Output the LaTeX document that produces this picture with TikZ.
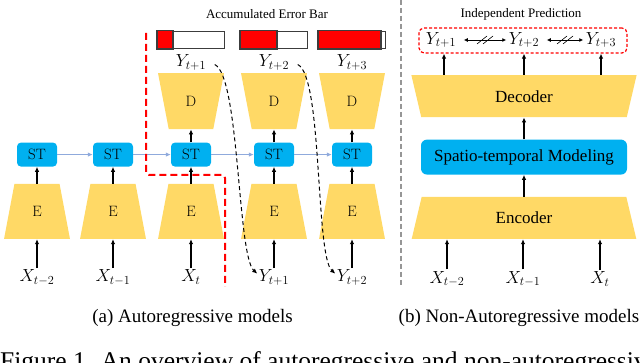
\RequirePackage{fix-cm}
\documentclass[tikz,border=0pt]{standalone}
\usepackage{fontspec}
\usepackage{amsmath}
\usepackage{tikz}
\usepackage{xcolor}
\newfontfamily\timesfont{Liberation Serif}
\usetikzlibrary{arrows.meta,positioning,shapes.geometric}
\definecolor{gold}{RGB}{255,217,102}
\definecolor{stblue}{RGB}{0,176,240}
\definecolor{linkblue}{RGB}{143,170,220}
\definecolor{bargray}{RGB}{60,60,60}
\definecolor{sepgray}{RGB}{150,150,150}

\begin{document}
\begin{tikzpicture}[x=1pt, y=-1pt, >={Latex[length=5pt,width=4.5pt]},
  encshape/.style={trapezium, trapezium stretches=true, trapezium angle=78, fill=gold, inner sep=0pt,
    minimum width=66pt, minimum height=55pt, font=\fontsize{15}{18}\selectfont},
  decshape/.style={encshape, shape border rotate=180, trapezium angle=76, minimum height=56pt},
  bigenc/.style={encshape, trapezium angle=77, minimum width=226pt, minimum height=42pt,
    font=\timesfont\fontsize{17}{20}\selectfont},
  bigdec/.style={bigenc, shape border rotate=180},
  stcell/.style={rectangle, rounded corners=4pt, fill=stblue, minimum width=40pt, minimum height=24pt,
    inner sep=0pt, font=\fontsize{15}{18}\selectfont},
  var/.style={inner sep=1.5pt, font=\fontsize{17.5}{20}\selectfont},
  errbar/.style={draw=bargray, line width=1.2pt, fill=white, minimum width=67pt, minimum height=17pt, inner sep=0pt},
  flow/.style={->, line width=1.2pt},
  link/.style={->, linkblue, line width=1.2pt},
  subcap/.style={font=\timesfont\fontsize{19}{22}\selectfont},
  note/.style={font=\timesfont\fontsize{13}{15}\selectfont}]
  \useasboundingbox (0,0) rectangle (640,363);

  % (a) autoregressive
  \node[encshape] (e1) at (37,211.5) {E};
  \node[encshape] (e2) at (113,211.5) {E};
  \node[encshape] (e3) at (191,211.5) {E};
  \node[encshape] (e4) at (274,211.5) {E};
  \node[encshape] (e5) at (352,211.5) {E};
  \node[stcell, above=17pt of e1] (st1) {ST};
  \node[stcell, above=17pt of e2] (st2) {ST};
  \node[stcell, above=17pt of e3] (st3) {ST};
  \node[stcell, above=17pt of e4] (st4) {ST};
  \node[stcell, above=17pt of e5] (st5) {ST};
  \node[decshape, above=13pt of st3] (d1) {D};
  \node[decshape, above=13pt of st4] (d2) {D};
  \node[decshape, above=13pt of st5] (d3) {D};
  \node[var, above=1pt of d1] (yt1) {$Y_{t+1}$};
  \node[var, above=1pt of d2] (yt2) {$Y_{t+2}$};
  \node[var, above=1pt of d3] (yt3) {$Y_{t+3}$};
  \node[errbar, above=4pt of yt1] (bar1) {};
  \node[errbar, above=4pt of yt2] (bar2) {};
  \node[errbar, above=4pt of yt3] (bar3) {};
  \filldraw[fill=red, draw=bargray, line width=1.2pt] (bar1.south west) rectangle ([xshift=16pt]bar1.north west);
  \filldraw[fill=red, draw=bargray, line width=1.2pt] (bar2.south west) rectangle ([xshift=37pt]bar2.north west);
  \filldraw[fill=red, draw=bargray, line width=1.2pt] (bar3.south west) rectangle ([xshift=63pt]bar3.north west);
  \node[note] (acc) at (267,14) {Accumulated Error Bar};
  \node[var, below=29pt of e1] (x1) {$X_{t-2}$};
  \node[var, below=29pt of e2] (x2) {$X_{t-1}$};
  \node[var, below=29pt of e3] (x3) {$X_{t}$};
  \node[var, below=29pt of e4] (yb1) {$Y_{t+1}$};
  \node[var, below=29pt of e5] (yb2) {$Y_{t+2}$};

  \draw[flow] (x1.north) -- (e1.south);
  \draw[flow] (x2.north) -- (e2.south);
  \draw[flow] (x3.north) -- (e3.south);
  \draw[flow] (yb1.north) -- (e4.south);
  \draw[flow] (yb2.north) -- (e5.south);
  \draw[flow] (e1.north) -- (st1.south);
  \draw[flow] (e2.north) -- (st2.south);
  \draw[flow] (e3.north) -- (st3.south);
  \draw[flow] (e4.north) -- (st4.south);
  \draw[flow] (e5.north) -- (st5.south);
  \draw[flow] (st3.north) -- (d1.south);
  \draw[flow] (st4.north) -- (d2.south);
  \draw[flow] (st5.north) -- (d3.south);
  \draw[link] (st1) -- (st2);
  \draw[link] (st2) -- (st3);
  \draw[link] (st3) -- (st4);
  \draw[link] (st4) -- (st5);
  \draw[->, line width=1pt, dash pattern=on 4pt off 3pt] ([xshift=7pt,yshift=-2pt]yt1.east)
    .. controls +(25,12) and +(-20,-18) .. ([yshift=4pt]yb1.west);
  \draw[->, line width=1pt, dash pattern=on 4pt off 3pt] ([xshift=7pt,yshift=-2pt]yt2.east)
    .. controls +(25,12) and +(-20,-18) .. ([yshift=4pt]yb2.west);
  \draw[red, line width=2pt, dash pattern=on 7pt off 4pt, rounded corners=3pt]
    (146,33) -- (146,175) -- (225,175) -- (225,287);
  \node[subcap] (capa) at (192.5,318) {(a) Autoregressive models};

  % separator
  \draw[sepgray, line width=1.5pt, dash pattern=on 5pt off 3pt] (401,0) -- (401,287);

  % (b) non-autoregressive
  \node[bigenc] (enc) at (524,218) {Encoder};
  \node[stcell, above=22pt of enc, minimum width=206pt, minimum height=35pt, rounded corners=6pt,
    font=\timesfont\fontsize{17}{20}\selectfont] (stm) {Spatio-temporal Modeling};
  \node[bigdec, above=22pt of stm] (dec) {Decoder};
  \node[var] (xr1) at (447,279) {$X_{t-2}$};
  \node[var] (xr2) at (523,279) {$X_{t-1}$};
  \node[var] (xr3) at (600,279) {$X_{t}$};
  \node[var] (yr1) at (441,40) {$Y_{t+1}$};
  \node[var] (yr2) at (524,40) {$Y_{t+2}$};
  \node[var] (yr3) at (601,40) {$Y_{t+3}$};
  \node[draw=red, line width=1.2pt, dash pattern=on 3pt off 2pt, rounded corners=5pt,
    minimum width=208pt, minimum height=25pt] (pbox) at (523,40.5) {};
  \node[note] (indep) at (521,14) {Independent Prediction};
  \draw[flow] (xr1.north) -- (xr1.north |- enc.south);
  \draw[flow] (xr2.north) -- (xr2.north |- enc.south);
  \draw[flow] (xr3.north) -- (xr3.north |- enc.south);
  \draw[flow] (enc.north) -- (stm.south);
  \draw[flow] (stm.north) -- (dec.south);
  \draw[flow] ([xshift=3pt]yr1 |- dec.north) -- ([xshift=3pt]yr1 |- pbox.south);
  \draw[flow] (yr2 |- dec.north) -- (yr2 |- pbox.south);
  \draw[flow] (yr3 |- dec.north) -- (yr3 |- pbox.south);
  \draw[{Latex[length=4pt,width=4pt]}-{Latex[length=4pt,width=4pt]}, line width=0.8pt]
    ([xshift=6pt]yr1.east) -- coordinate (m1) ([xshift=-1pt]yr2.west);
  \draw[{Latex[length=4pt,width=4pt]}-{Latex[length=4pt,width=4pt]}, line width=0.8pt]
    ([xshift=6pt]yr2.east) -- coordinate (m2) ([xshift=-1pt]yr3.west);
  \draw[line width=0.6pt] (m1) +(-8,4) -- +(2,-4) (m1) +(-2,4) -- +(8,-4);
  \draw[line width=0.6pt] (m2) +(-8,4) -- +(2,-4) (m2) +(-2,4) -- +(8,-4);
  \node[subcap, anchor=east, inner sep=0pt] (capb) at (639.5,318) {(b) Non-Autoregressive models};

  % figure caption, cut by the page edge
  \node[anchor=base west, inner sep=0pt, font=\timesfont\fontsize{25.5}{30}\selectfont] (fig) at (0,369.5)
    {Figure 1. An overview of autoregressive and non-autoregressive models};
\end{tikzpicture}
\end{document}
